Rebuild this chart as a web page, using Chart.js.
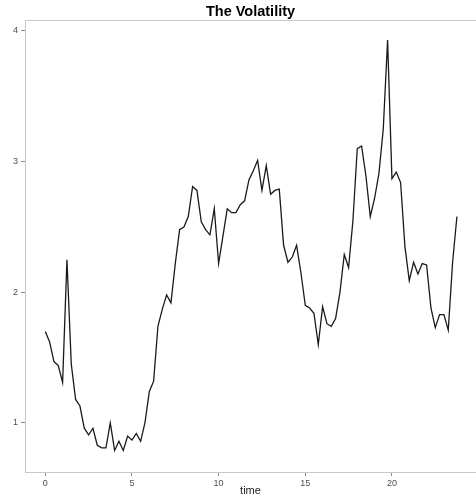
<!DOCTYPE html>
<html lang="en">
<head>
    <meta charset="UTF-8">
    <title>The Volatility</title>
    <script src="https://cdn.jsdelivr.net/npm/chart.js"></script>
    <style>
        body {
            margin: 0;
            background-color: #ffffff;
            font-family: "Liberation Sans", Arial, sans-serif;
        }
        #chartContainer {
            width: 476px;
            height: 498px;
        }
    </style>
</head>
<body>
    <div id="chartContainer">
        <canvas id="volChart"></canvas>
    </div>

    <script>
        const times = [
            0, 0.25, 0.5, 0.75, 1, 1.25, 1.5, 1.75, 2, 2.25, 2.5, 2.75,
            3, 3.25, 3.5, 3.75, 4, 4.25, 4.5, 4.75, 5, 5.25, 5.5, 5.75,
            6, 6.25, 6.5, 6.75, 7, 7.25, 7.5, 7.75, 8, 8.25, 8.5, 8.75,
            9, 9.25, 9.5, 9.75, 10, 10.25, 10.5, 10.75, 11, 11.25, 11.5, 11.75,
            12, 12.25, 12.5, 12.75, 13, 13.25, 13.5, 13.75, 14, 14.25, 14.5, 14.75,
            15, 15.25, 15.5, 15.75, 16, 16.25, 16.5, 16.75, 17, 17.25, 17.5, 17.75,
            18, 18.25, 18.5, 18.75, 19, 19.25, 19.5, 19.75, 20, 20.25, 20.5, 20.75,
            21, 21.25, 21.5, 21.75, 22, 22.25, 22.5, 22.75, 23, 23.25, 23.5, 23.75
        ];
        const volatility = [
            1.70, 1.62, 1.47, 1.44, 1.31, 2.25, 1.45, 1.18, 1.13, 0.96, 0.91, 0.96,
            0.83, 0.81, 0.81, 1.00, 0.79, 0.86, 0.79, 0.90, 0.87, 0.92, 0.86, 1.00,
            1.24, 1.32, 1.74, 1.87, 1.98, 1.92, 2.22, 2.48, 2.50, 2.58, 2.81, 2.78,
            2.54, 2.48, 2.44, 2.64, 2.22, 2.43, 2.64, 2.61, 2.61, 2.67, 2.70, 2.86,
            2.93, 3.01, 2.78, 2.97, 2.75, 2.78, 2.79, 2.36, 2.23, 2.27, 2.36, 2.15,
            1.90, 1.88, 1.84, 1.60, 1.89, 1.76, 1.74, 1.80, 2.00, 2.29, 2.19, 2.55,
            3.10, 3.12, 2.89, 2.58, 2.72, 2.91, 3.25, 3.93, 2.87, 2.92, 2.84, 2.35,
            2.09, 2.23, 2.14, 2.22, 2.21, 1.88, 1.73, 1.83, 1.83, 1.71, 2.23, 2.58
        ];
        const xTicks = [0, 5, 10, 15, 20];
        const yTicks = [1, 2, 3, 4];

        const fontFamily = '"Liberation Sans", Arial, sans-serif';
        const axisLine = '#c8c8c8';
        const tickMark = '#8a8a8a';
        const tickText = '#4d4d4d';

        // top frame line (R theme draws it across the panel)
        const topLine = {
            id: 'topLine',
            afterDraw(chart) {
                const { ctx, chartArea } = chart;
                ctx.save();
                ctx.strokeStyle = axisLine;
                ctx.lineWidth = 1;
                ctx.beginPath();
                ctx.moveTo(chartArea.left, chartArea.top + 0.5);
                ctx.lineTo(chart.width, chartArea.top + 0.5);
                ctx.stroke();
                ctx.restore();
            }
        };

        const ctx = document.getElementById('volChart').getContext('2d');
        new Chart(ctx, {
            type: 'line',
            data: {
                datasets: [{
                    data: times.map((t, i) => ({ x: t, y: volatility[i] })),
                    borderColor: '#1a1a1a',
                    borderWidth: 1.3,
                    pointRadius: 0,
                    tension: 0,
                    fill: false
                }]
            },
            options: {
                responsive: true,
                maintainAspectRatio: false,
                animation: false,
                layout: { padding: 0 },
                plugins: {
                    legend: { display: false },
                    tooltip: { enabled: false },
                    title: {
                        display: true,
                        text: 'The Volatility',
                        fullSize: false,
                        color: '#000',
                        font: { family: fontFamily, size: 14.5, weight: 'bold', lineHeight: '17px' },
                        padding: { top: 3, bottom: 0 }
                    }
                },
                scales: {
                    x: {
                        type: 'linear',
                        min: -1.17,
                        max: 24.85,
                        afterFit: (scale) => { scale.height = 26; },
                        afterBuildTicks: (scale) => { scale.ticks = xTicks.map(v => ({ value: v })); },
                        border: { display: true, color: axisLine, width: 1 },
                        grid: { drawOnChartArea: false, drawTicks: true, tickLength: 4, color: tickMark },
                        ticks: {
                            color: tickText,
                            padding: 2,
                            maxRotation: 0,
                            font: { family: fontFamily, size: 9 }
                        },
                        title: {
                            display: true,
                            text: 'time',
                            color: '#1a1a1a',
                            padding: 0,
                            font: { family: fontFamily, size: 11 }
                        }
                    },
                    y: {
                        min: 0.625,
                        max: 4.084,
                        afterFit: (scale) => { scale.width = 25; },
                        afterBuildTicks: (scale) => { scale.ticks = yTicks.map(v => ({ value: v })); },
                        border: { display: true, color: axisLine, width: 1 },
                        grid: { drawOnChartArea: false, drawTicks: true, tickLength: 4, color: tickMark },
                        ticks: {
                            color: tickText,
                            padding: 3,
                            font: { family: fontFamily, size: 9 }
                        }
                    }
                }
            },
            plugins: [topLine]
        });
    </script>
</body>
</html>
